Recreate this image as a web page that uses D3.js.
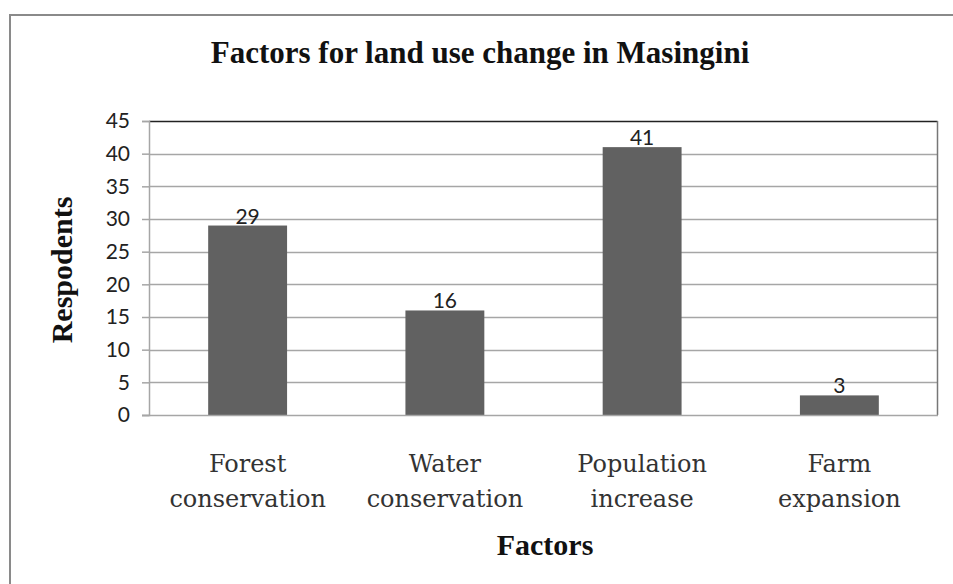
<!DOCTYPE html>
<html><head><meta charset="utf-8">
<script src="https://cdn.jsdelivr.net/npm/d3@7"></script>
<style>body{margin:0;background:#fff}svg{display:block}</style>
</head><body>
<script>
const categories = [["Forest","conservation"],["Water","conservation"],["Population","increase"],["Farm","expansion"]];
const values = [29,16,41,3];
const yTicks = [0,5,10,15,20,25,30,35,40,45];
const title = "Factors for land use change in Masingini";
const xTitle = "Factors";
const yTitle = "Respodents";

const W=953,H=584;
const svg=d3.select("body").append("svg").attr("width",W).attr("height",H);
svg.append("rect").attr("width",W).attr("height",H).attr("fill","#fff");
// outer border (cropped on right/bottom)
svg.append("path").attr("d",`M10,${H+5}V15H${W+5}`).attr("fill","none").attr("stroke","#8a8a8a").attr("stroke-width",2);

const L=149,R=938,T=121,B=415;
const x=d3.scaleBand().domain(d3.range(values.length)).range([L,R]).paddingInner(0.6).paddingOuter(0.3);
const y=d3.scaleLinear().domain([0,45]).range([B,T]);

// gridlines
svg.append("g").selectAll("line").data(yTicks.filter(d=>d>0&&d<45)).join("line")
 .attr("x1",L).attr("x2",R).attr("y1",d=>Math.round(y(d))+0.5).attr("y2",d=>Math.round(y(d))+0.5)
 .attr("stroke","#a6a6a6").attr("stroke-width",1.5);

// bars
svg.append("g").selectAll("rect").data(values).join("rect")
 .attr("x",(d,i)=>x(i)).attr("width",x.bandwidth())
 .attr("y",d=>y(d)).attr("height",d=>B-y(d)).attr("fill","#616161");

// plot border top/right
svg.append("path").attr("d",`M${L},${T+0.5}H${R-0.5}`).attr("fill","none").attr("stroke","#222").attr("stroke-width",1.5);
svg.append("path").attr("d",`M${R-0.5},${T}V${B}`).attr("fill","none").attr("stroke","#777").attr("stroke-width",1.5);

// y axis
const yAxis=d3.axisLeft(y).tickValues(yTicks).tickSize(7).tickPadding(12);
const gy=svg.append("g").attr("transform",`translate(${L},0)`).call(yAxis);
gy.select(".domain").attr("stroke","#a6a6a6").attr("stroke-width",1.5);
gy.selectAll(".tick line").attr("stroke","#a6a6a6").attr("stroke-width",1.5);
gy.selectAll(".tick text").attr("font-family","Lato, 'Open Sans', sans-serif").attr("font-size",21).attr("fill","#222");
// x baseline
svg.append("line").attr("x1",L-7).attr("x2",R).attr("y1",B+0.5).attr("y2",B+0.5).attr("stroke","#a6a6a6").attr("stroke-width",1.5);

// data labels
svg.append("g").selectAll("text").data(values).join("text")
 .attr("x",(d,i)=>x(i)+x.bandwidth()/2).attr("y",d=>y(d)-2)
 .attr("text-anchor","middle").attr("font-family","Lato, 'Open Sans', sans-serif").attr("font-size",21).attr("fill","#222")
 .text(d=>d);

// x category labels
const xl=svg.append("g").selectAll("text").data(categories).join("text")
 .attr("text-anchor","middle").attr("font-family","'DejaVu Serif', serif").attr("font-size",24).attr("fill","#333");
xl.each(function(c,i){
  const t=d3.select(this);
  c.forEach((s,k)=>t.append("tspan").attr("x",x(i)+x.bandwidth()/2).attr("y",472+k*35).text(s));
});

// titles
svg.append("text").attr("x",480).attr("y",63).attr("text-anchor","middle")
 .attr("font-family","'Liberation Serif', serif").attr("font-weight","bold").attr("font-size",31).attr("fill","#111").text(title);
svg.append("text").attr("x",545).attr("y",555).attr("text-anchor","middle")
 .attr("font-family","'Liberation Serif', serif").attr("font-weight","bold").attr("font-size",30).attr("fill","#111").text(xTitle);
svg.append("text").attr("transform","translate(72,270) rotate(-90)").attr("text-anchor","middle")
 .attr("font-family","'Liberation Serif', serif").attr("font-weight","bold").attr("font-size",30).attr("fill","#111").text(yTitle);
</script>
</body></html>
